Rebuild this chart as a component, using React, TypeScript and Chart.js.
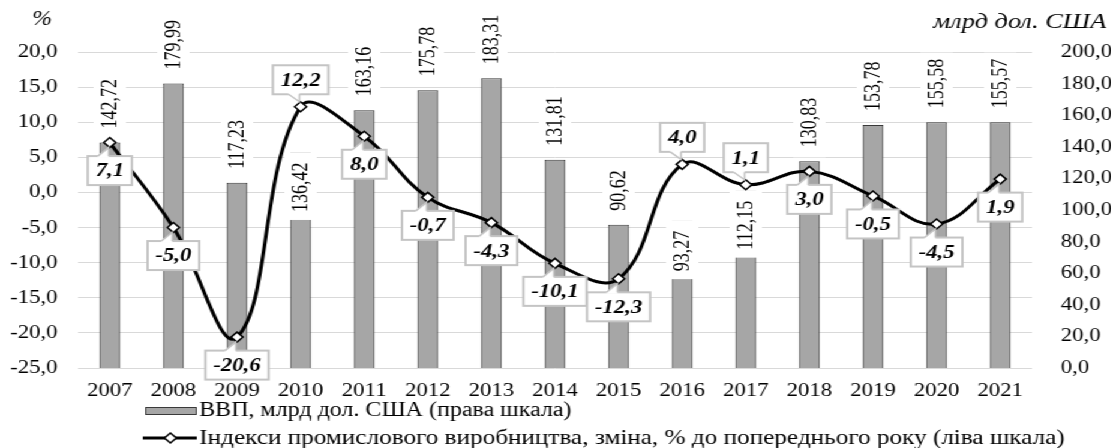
import React, { useEffect, useRef } from 'react';
import { Chart, registerables } from 'chart.js';

Chart.register(...registerables);

// ---------- data ----------
const years = ['2007', '2008', '2009', '2010', '2011', '2012', '2013', '2014', '2015', '2016', '2017', '2018', '2019', '2020', '2021'];
const gdpValues = [142.72, 179.99, 117.23, 136.42, 163.16, 175.78, 183.31, 131.81, 90.62, 93.27, 112.15, 130.83, 153.78, 155.58, 155.57];
const indexValues = [7.1, -5.0, -20.6, 12.2, 8.0, -0.7, -4.3, -10.1, -12.3, 4.0, 1.1, 3.0, -0.5, -4.5, 1.9];

const gdpLabel = 'ВВП, млрд дол. США (права шкала)';
const indexLabel = 'Індекси промислового виробництва, зміна, % до попереднього року (ліва шкала)';
const leftAxisTitle = '%';
const rightAxisTitle = 'млрд дол. США';

// label placement (styling, not data)
const indexLabelSide = ['below', 'below', 'below', 'above', 'below', 'below', 'below', 'below', 'below', 'above', 'above', 'below', 'below', 'below', 'below'];
const gdpLabelInside = [false, false, false, true, false, false, false, false, false, true, true, false, false, false, false];

// ---------- styling ----------
const STRETCH = 1.2;
const W = 926;
const H = 448;
const SERIF = '"Liberation Serif", "Times New Roman", serif';
const BAR_FILL = '#a6a6a6';
const BAR_BORDER = '#3a3a3a';
const GRID = '#d9d9d9';
const CALLOUT_BORDER = '#c4c4c4';

const fmt = (v: number, d: number) => v.toFixed(d).replace('.', ',');

const barLabelPlugin = {
  id: 'barLabels',
  afterDatasetDraw(chart: any, args: any) {
    if (args.index !== 0) return;
    const ctx = chart.ctx;
    const meta = chart.getDatasetMeta(0);
    ctx.save();
    ctx.font = `18px ${SERIF}`;
    meta.data.forEach((bar: any, i: number) => {
      const text = fmt(gdpValues[i], 2);
      const w = ctx.measureText(text).width;
      const x = bar.x;
      const top = bar.y;
      let yBottom: number, bgTop: number, bgBottom: number;
      if (gdpLabelInside[i]) {
        const yTop = top + 10;
        yBottom = yTop + w;
        bgTop = top;
        bgBottom = yBottom + 8;
      } else {
        yBottom = top - 14;
        bgTop = yBottom - w - 6;
        bgBottom = top - 4;
      }
      ctx.fillStyle = '#ffffff';
      ctx.fillRect(x - 13.5, bgTop, 27, bgBottom - bgTop);
      ctx.save();
      ctx.translate(x, yBottom);
      ctx.rotate(-Math.PI / 2);
      ctx.fillStyle = '#000';
      ctx.textAlign = 'left';
      ctx.textBaseline = 'middle';
      ctx.fillText(text, 0, 1);
      ctx.restore();
    });
    ctx.restore();
  },
};

const calloutPlugin = {
  id: 'callouts',
  afterDatasetsDraw(chart: any) {
    const ctx = chart.ctx;
    const meta = chart.getDatasetMeta(1);
    ctx.save();
    ctx.font = `italic bold 19px ${SERIF}`;
    meta.data.forEach((pt: any, i: number) => {
      const text = fmt(indexValues[i], 1);
      const tw = ctx.measureText(text).width;
      const bw = tw + 13;
      const bh = 29;
      const below = indexLabelSide[i] === 'below';
      const cx = pt.x;
      const cy = pt.y + (below ? 28 : -27);
      const left = cx - bw / 2;
      const top = cy - bh / 2;
      // box
      ctx.fillStyle = '#fff';
      ctx.fillRect(left, top, bw, bh);
      ctx.strokeStyle = CALLOUT_BORDER;
      ctx.lineWidth = 2;
      ctx.strokeRect(left, top, bw, bh);
      // wedge
      const edgeY = below ? top : top + bh;
      const inward = below ? 1.5 : -1.5;
      const tipY = pt.y + (below ? 5 : -5);
      const bl = cx - 10;
      const br = cx - 1;
      ctx.beginPath();
      ctx.moveTo(bl, edgeY + inward);
      ctx.lineTo(bl, edgeY);
      ctx.lineTo(pt.x - 1, tipY);
      ctx.lineTo(br, edgeY);
      ctx.lineTo(br, edgeY + inward);
      ctx.closePath();
      ctx.fillStyle = '#fff';
      ctx.fill();
      ctx.beginPath();
      ctx.moveTo(bl, edgeY);
      ctx.lineTo(pt.x - 1, tipY);
      ctx.lineTo(br, edgeY);
      ctx.lineWidth = 1.5;
      ctx.stroke();
      // text
      ctx.fillStyle = '#000';
      ctx.textAlign = 'center';
      ctx.textBaseline = 'middle';
      ctx.fillText(text, cx, cy + 1);
    });
    ctx.restore();
  },
};

const decorPlugin = {
  id: 'decor',
  afterDraw(chart: any) {
    const ctx = chart.ctx;
    ctx.save();
    ctx.fillStyle = '#000';
    ctx.textBaseline = 'middle';
    // axis titles
    ctx.font = `italic 20px ${SERIF}`;
    ctx.textAlign = 'center';
    ctx.fillText(leftAxisTitle, 35, 20);
    ctx.font = `italic 22px ${SERIF}`;
    ctx.textAlign = 'right';
    ctx.fillText(rightAxisTitle, 922, 22);

    // legend row 1 (bars)
    ctx.textAlign = 'left';
    ctx.fillStyle = BAR_FILL;
    ctx.fillRect(121, 407, 43, 8);
    ctx.strokeStyle = BAR_BORDER;
    ctx.lineWidth = 1;
    ctx.strokeRect(121.5, 407.5, 42, 7);
    ctx.fillStyle = '#000';
    ctx.font = `20px ${SERIF}`;
    ctx.fillText(gdpLabel, 166, 411);

    // legend row 2 (line)
    ctx.strokeStyle = '#000';
    ctx.lineWidth = 3;
    ctx.beginPath();
    ctx.moveTo(119, 438);
    ctx.lineTo(164, 438);
    ctx.stroke();
    ctx.beginPath();
    ctx.moveTo(142, 433);
    ctx.lineTo(147, 438);
    ctx.lineTo(142, 443);
    ctx.lineTo(137, 438);
    ctx.closePath();
    ctx.fillStyle = '#fff';
    ctx.fill();
    ctx.lineWidth = 1.5;
    ctx.stroke();
    ctx.fillStyle = '#000';
    ctx.font = `21px ${SERIF}`;
    ctx.fillText(indexLabel, 166, 438);
    ctx.restore();
  },
};

export default function App() {
  const canvasRef = useRef<HTMLCanvasElement | null>(null);

  useEffect(() => {
    document.body.style.margin = '0';
    document.body.style.background = '#fff';
    const canvas = canvasRef.current;
    if (!canvas) return;
    const tickFont = { family: SERIF, size: 19 };
    const chart = new Chart(canvas, {
      data: {
        labels: years,
        datasets: [
          {
            type: 'bar',
            label: gdpLabel,
            data: gdpValues,
            yAxisID: 'yRight',
            backgroundColor: BAR_FILL,
            borderColor: BAR_BORDER,
            borderWidth: 1,
            barPercentage: 0.33,
            categoryPercentage: 1,
            order: 1,
          },
          {
            type: 'line',
            label: indexLabel,
            data: indexValues,
            yAxisID: 'yLeft',
            borderColor: '#000',
            borderWidth: 3,
            tension: 0.4,
            pointStyle: 'rectRot',
            pointRadius: 5,
            pointBackgroundColor: '#fff',
            pointBorderColor: '#000',
            pointBorderWidth: 1.5,
            order: 0,
          },
        ],
      } as any,
      options: {
        responsive: false,
        animation: false,
        devicePixelRatio: 1,
        layout: { padding: { top: 52, left: 0, right: 0, bottom: 0 } },
        plugins: { legend: { display: false }, tooltip: { enabled: false } },
        scales: {
          x: {
            grid: { display: false },
            border: { display: false },
            ticks: { font: tickFont, color: '#000', padding: 4, maxRotation: 0, autoSkip: false },
            afterFit: (s: any) => { s.height = 80; },
          },
          yLeft: {
            position: 'left',
            min: -25,
            max: 20,
            ticks: { stepSize: 5, callback: (v: any) => fmt(Number(v), 1), font: tickFont, color: '#000', padding: 17 },
            grid: { color: GRID, drawTicks: false, lineWidth: 1 },
            border: { display: false },
            afterFit: (s: any) => { s.width = 65; },
          },
          yRight: {
            position: 'right',
            min: 0,
            max: 200,
            ticks: { stepSize: 20, callback: (v: any) => fmt(Number(v), 1), font: tickFont, color: '#000', padding: 16 },
            grid: { display: false },
            border: { display: false },
            afterFit: (s: any) => { s.width = 66; },
          },
        },
      } as any,
      plugins: [barLabelPlugin, calloutPlugin, decorPlugin],
    });
    return () => chart.destroy();
  }, []);

  return (
    <div
      style={{
        position: 'absolute',
        left: 0,
        top: 0,
        width: W,
        height: H,
        transform: `scaleX(${STRETCH})`,
        transformOrigin: '0 0',
        background: '#fff',
      }}
    >
      <canvas ref={canvasRef} width={W} height={H} />
    </div>
  );
}
